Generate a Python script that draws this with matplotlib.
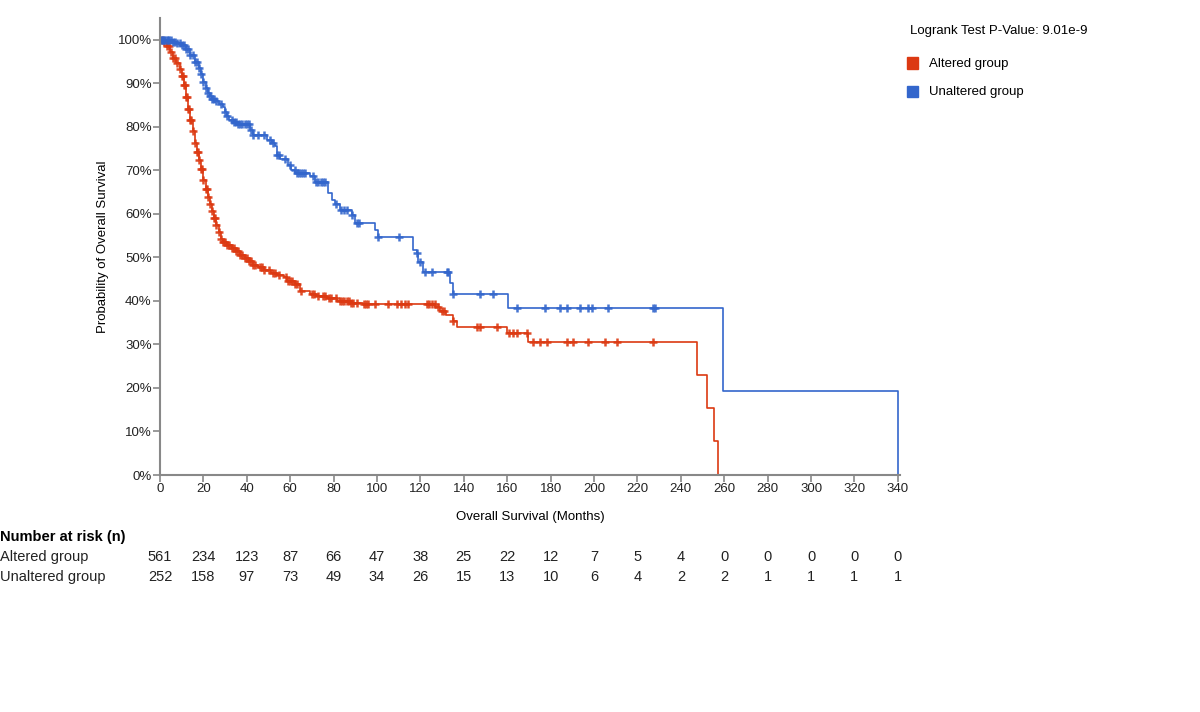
import numpy as np
import matplotlib
matplotlib.use('Agg')
import matplotlib.pyplot as plt

plt.rcParams['font.family'] = ['Liberation Sans', 'DejaVu Sans']

RED = '#dc3912'
BLUE = '#3366cc'

# step curves (months, survival %)
alt_t = [0, 1.5, 3, 4.5, 6, 7.5, 9, 10, 11, 12, 13, 14, 15, 16, 17, 18, 19, 20,
         21, 22, 23, 24, 25, 26, 27, 28, 29, 31, 33, 35, 37, 39, 41, 43, 45, 48,
         51, 54, 57, 58.4, 62, 64.5, 69, 72, 77, 81.4, 88, 93.7, 126.7, 129, 132,
         135, 136.7, 159.8, 169.5, 247.3, 252.2, 255.3, 257.3]
alt_s = [100, 99.5, 98.6, 97.2, 95.8, 94.6, 93.3, 91.6, 89.5, 86.8, 84, 81.5, 79,
         76.3, 74.2, 72.3, 70.2, 67.8, 65.6, 63.8, 62.2, 60.6, 59.0, 57.4, 55.8,
         54.3, 53.6, 52.9, 52.2, 51.4, 50.6, 49.9, 49.1, 48.3, 47.7, 47.1, 46.5,
         46.0, 45.5, 44.5, 43.8, 42.2, 41.7, 41.2, 40.6, 39.9, 39.6, 39.2, 38.7,
         37.6, 36.8, 35.4, 34.1, 32.7, 30.6, 23.0, 15.3, 7.7, 0]
alt_cens = [1, 2, 3, 4, 5, 6, 7, 8, 9, 10, 10.5, 11, 11.5, 12, 12.5, 13, 13.5, 14,
            14.5, 15, 16, 17, 17.5, 18, 19, 19.5, 20, 21, 21.5, 22, 23, 24, 25,
            25.5, 26, 27, 28, 29, 30, 31, 32, 33, 34, 35, 36, 37, 38, 39, 40, 41,
            42, 43, 44, 46, 47, 48, 50, 52, 53, 55, 58, 59, 60, 61, 62, 63, 65,
            70, 71, 73, 75, 76, 78, 79, 81, 83, 84, 85, 86, 87, 88, 89, 91, 94,
            95, 96, 99, 105, 109, 111, 113, 114.5, 123, 124, 125.5, 126.5, 128,
            130, 131, 135.2, 146, 147.5, 155.2, 161, 162.5, 164.5, 169, 172, 175,
            178.2, 187.4, 190.5, 197.4, 205, 210.4, 227.3]

unalt_t = [0, 5, 6, 8, 10, 12, 14, 16, 18, 19, 20, 21, 22, 23, 24, 26, 27, 29, 30,
           31, 32, 34, 36, 41.5, 43, 49.2, 51.5, 53, 53.8, 55.3, 59.1, 60.5, 62.2,
           69, 71.4, 77.6, 79.1, 80.6, 82.9, 88.3, 89.9, 99.1, 100.6, 116.7, 118.3,
           119, 121.3, 133.6, 135.2, 160.5, 259.3, 340]
unalt_s = [100, 100, 99.5, 99.2, 98.8, 97.8, 96.5, 95, 93.5, 92.2, 90.3, 89, 87.8,
           87, 86.5, 86, 85.3, 84.5, 83.5, 82.5, 81.5, 81, 80.6, 79.3, 78.2, 77.0,
           76.2, 75.5, 73.6, 72.6, 71.3, 70.1, 69.5, 68.6, 67.4, 64.8, 63.2, 62.3,
           60.9, 59.8, 57.9, 56.3, 54.6, 51.7, 51.0, 49.0, 46.7, 44.1, 41.6, 38.3,
           19.2, 0]
unalt_cens = [0.5, 1, 1.5, 2, 2.5, 3, 3.5, 4, 5, 6, 7, 8, 9, 10, 11, 12, 13, 14,
              15, 16, 17, 18, 19, 20, 21, 22, 23, 24, 25, 26, 28, 30, 31, 33, 34,
              35, 36, 37, 38, 39, 40, 41, 42, 43, 45, 48, 50.7, 52, 54, 55, 57.6,
              59.9, 62, 63, 64, 65, 66, 67, 70.5, 72, 73, 74, 75, 76, 81, 83.5, 85,
              86, 88.5, 90.6, 91.5, 100.6, 110, 118.3, 119.8, 122.1, 125.2, 132.1,
              132.9, 135.2, 147.5, 153.6, 164.4, 177.4, 184.3, 187.4, 193.5, 197.4,
              198.9, 206.6, 227.3, 228.1]

risk_ticks = [0, 20, 40, 60, 80, 100, 120, 140, 160, 180, 200, 220, 240, 260,
              280, 300, 320, 340]
alt_risk = [561, 234, 123, 87, 66, 47, 38, 25, 22, 12, 7, 5, 4, 0, 0, 0, 0, 0]
unalt_risk = [252, 158, 97, 73, 49, 34, 26, 15, 13, 10, 6, 4, 2, 2, 1, 1, 1, 1]


def surv_at(times, surv, pts):
    idx = np.searchsorted(times, pts, side='right') - 1
    return np.array(surv)[idx]


fig = plt.figure(figsize=(12, 7.12), dpi=100)
ax = fig.add_axes([160 / 1200, 237 / 712, 740 / 1200, 457 / 712])

for t, s, c, col in [(alt_t, alt_s, alt_cens, RED), (unalt_t, unalt_s, unalt_cens, BLUE)]:
    ax.plot(t, s, drawstyle='steps-post', color=col, lw=1.2)
    ax.plot(c, surv_at(t, s, c), ls='none', marker='+', color=col, ms=5.5, mew=1.8, alpha=0.9)

ax.set_xlim(0, 341)
ax.set_ylim(0, 105)
ax.set_xticks(risk_ticks)
ax.set_yticks(range(0, 101, 10))
ax.set_yticklabels([f'{v}%' for v in range(0, 101, 10)])
for sp in ['top', 'right']:
    ax.spines[sp].set_visible(False)
for sp in ['left', 'bottom']:
    ax.spines[sp].set_color('#888888')
    ax.spines[sp].set_linewidth(1.5)
ax.tick_params(colors='#222222', labelsize=9.5, length=5, width=1.2, pad=1)
ax.tick_params(axis='both', color='#888888')
ax.set_xlabel('Overall Survival (Months)', fontsize=9.5, labelpad=11)
ax.set_ylabel('Probability of Overall Survival', fontsize=9.5, labelpad=6)

# legend / p-value
fig.text(910 / 1200, 1 - 31 / 712, 'Logrank Test P-Value: 9.01e-9', fontsize=9.5, va='center')
for y, lab, col in [(63, 'Altered group', RED), (91, 'Unaltered group', BLUE)]:
    fig.patches.append(plt.Rectangle((907 / 1200, 1 - (y + 5.5) / 712), 11 / 1200, 11 / 712,
                                     transform=fig.transFigure, color=col))
    fig.text(929 / 1200, 1 - (y + 1.5) / 712, lab, fontsize=9.5, va='center')

# number at risk table
fig.text(0, 1 - 537 / 712, 'Number at risk (n)', fontsize=10.5, fontweight='bold', va='center')
for y, lab, vals in [(557, 'Altered group', alt_risk), (577, 'Unaltered group', unalt_risk)]:
    fig.text(0, 1 - y / 712, lab, fontsize=10.5, va='center', color='#222222')
    for xv, n in zip(risk_ticks, vals):
        xf = ax.transData.transform((xv, 0))[0] / fig.bbox.width
        fig.text(xf, 1 - y / 712, str(n), fontsize=10.5, va='center', ha='center', color='#222222')

fig.savefig('out.png', dpi=100)
